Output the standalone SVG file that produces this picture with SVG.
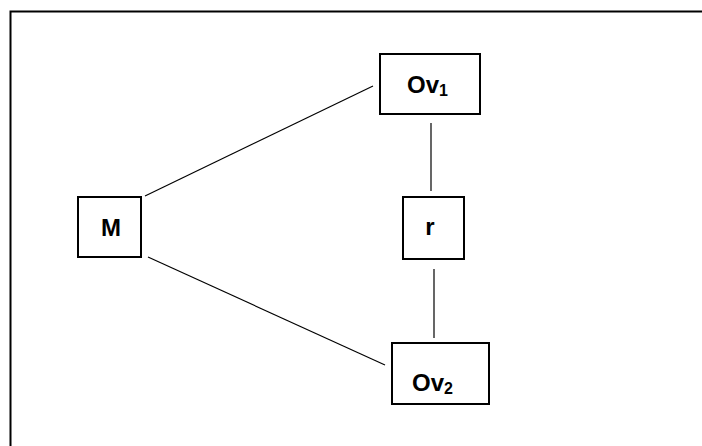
<svg xmlns="http://www.w3.org/2000/svg" width="702" height="446" viewBox="0 0 702 446">
<style>
.box{fill:#fff;stroke:#000;stroke-width:2}
.lbl{font-family:"Liberation Sans",Arial,sans-serif;font-weight:bold;font-size:24px;fill:#000}
.sub{font-size:16px}
.edge{stroke:#000;stroke-width:1.2;fill:none}
</style>
<rect x="0" y="0" width="702" height="446" fill="#fff"/>
<rect x="10.5" y="11.5" width="700" height="450" fill="none" stroke="#000" stroke-width="2"/>
<g id="connectors">
<line class="edge" x1="145" y1="196" x2="373" y2="86"/>
<line class="edge" x1="148" y1="257" x2="385" y2="365"/>
<line class="edge" x1="431" y1="123" x2="431" y2="191"/>
<line class="edge" x1="434" y1="269" x2="434" y2="338"/>
</g>
<g id="M">
<rect class="box" x="78" y="197" width="63" height="60"/>
<text class="lbl" x="111" y="236" text-anchor="middle">M</text>
</g>
<g id="Ov1">
<rect class="box" x="380" y="54" width="100" height="60"/>
<text class="lbl" x="407" y="93">Ov<tspan class="sub" dy="3">1</tspan></text>
</g>
<g id="r">
<rect class="box" x="403" y="197" width="61" height="62"/>
<text class="lbl" x="430" y="235" text-anchor="middle">r</text>
</g>
<g id="Ov2">
<rect class="box" x="392" y="343" width="97" height="61"/>
<text class="lbl" x="412" y="391">Ov<tspan class="sub" dy="3">2</tspan></text>
</g>
</svg>
